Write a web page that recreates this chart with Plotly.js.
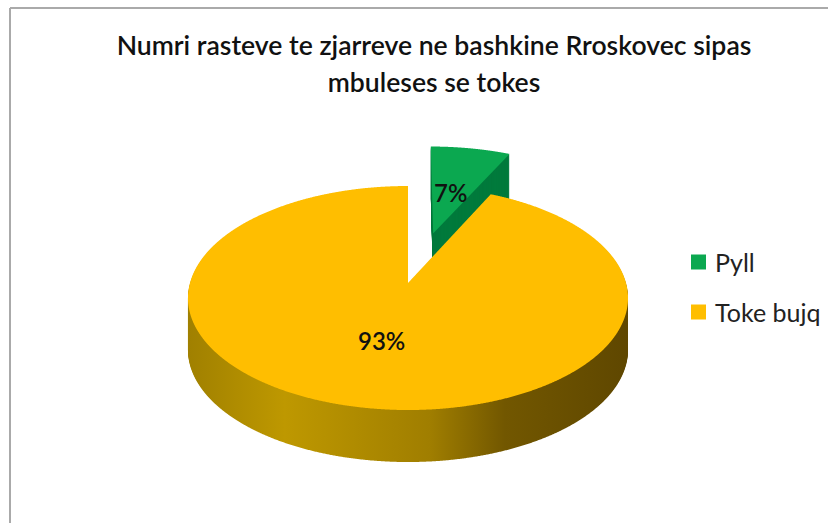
<!DOCTYPE html>
<html><head><meta charset="utf-8">
<script src="https://cdn.plot.ly/plotly-3.0.1.min.js"></script>
<style>html,body{margin:0;padding:0;background:#fff;overflow:hidden}#g{width:828px;height:523px}</style>
</head><body><div id="g"></div>
<script>
const categories = ['Pyll', 'Toke bujq'];
const shares = [7, 93];
const sliceColors = ['#0BA850', '#FFBE00'];
const wallColors = ['#007A3C', '#A88500'];
const titleLines = ['Numri rasteve te zjarreve ne bashkine Rroskovec sipas', 'mbuleses se tokes'];
const W = 828, H = 523;
const CX = 408, RX = 220, TOP = 186, MID = 283, BOT = 410, DEPTH = 52, STEP = 1;
const PULL = 0.46;

const base = {
  type: 'pie', labels: categories, values: shares, sort: false, direction: 'clockwise', rotation: 0,
  pull: [PULL, 0], textinfo: 'none', hoverinfo: 'skip', domain: {x: [0, 1], y: [0, 1]}
};
const traces = [];
for (let d = DEPTH; d > 0; d -= STEP) {
  traces.push(Object.assign({}, base, {showlegend: false, marker: {colors: wallColors, line: {width: 0}}}));
}
traces.push(Object.assign({}, base, {showlegend: true, marker: {colors: sliceColors, line: {width: 0}}}));

const sx = v => v / W, sy = v => 1 - v / H;
const layout = {
  width: W, height: H, margin: {l: 0, r: 0, t: 0, b: 0}, paper_bgcolor: '#fff',
  font: {family: 'Lato, sans-serif', color: '#1a1a1a'},
  title: {text: titleLines.join('<br>'), font: {family: 'Lato, sans-serif', size: 26.6, color: '#111', weight: 600},
          x: 434 / W, xanchor: 'center', y: 1 - 55 / H, yanchor: 'bottom'},
  legend: {x: sx(640), y: sy(240), xanchor: 'left', yanchor: 'top', font: {size: 25, color: '#222'}, bgcolor: 'rgba(0,0,0,0)'},
  shapes: [
    {type: 'line', xref: 'paper', yref: 'paper', x0: sx(10), x1: 1, y0: sy(8), y1: sy(8), line: {color: '#aaa', width: 2}},
    {type: 'line', xref: 'paper', yref: 'paper', x0: sx(10), x1: sx(10), y0: sy(8), y1: 0, line: {color: '#aaa', width: 2}}
  ],
  annotations: [
    {xref: 'paper', yref: 'paper', x: sx(450), y: sy(192), text: shares[0] + '%', showarrow: false, font: {size: 24, color: '#111', weight: 600}},
    {xref: 'paper', yref: 'paper', x: sx(381), y: sy(340), text: shares[1] + '%', showarrow: false, font: {size: 24, color: '#111', weight: 600}}
  ]
};

Plotly.newPlot('g', traces, layout, {displayModeBar: false, staticPlot: true}).then(gd => {
  const NS = 'http://www.w3.org/2000/svg';
  const svg = gd.querySelector('svg.main-svg');
  const defs = svg.querySelector('defs');
  const grad = document.createElementNS(NS, 'linearGradient');
  grad.setAttribute('id', 'wall');
  [[0, '#A08000'], [0.22, '#BE9800'], [0.55, '#A07E00'], [0.72, '#725700'], [1, '#5F4700']].forEach(s => {
    const st = document.createElementNS(NS, 'stop');
    st.setAttribute('offset', s[0]); st.setAttribute('stop-color', s[1]);
    grad.appendChild(st);
  });
  defs.appendChild(grad);

  // perspective: the flat pie from Plotly is projected onto the tilted plane
  const cd = gd.calcdata[0][0];
  const c = (2 * MID - TOP - BOT) / (BOT - TOP);
  const a = BOT * (1 + c) - MID;
  const A = RX * Math.sqrt(1 - c * c);
  const warp = (px, py) => {
    const u = (px - cd.cx) / cd.r, v = (py - cd.cy) / cd.r, q = 1 + c * v;
    return [CX + A * u / q, (a * v + MID) / q];
  };
  const warped = (path) => {
    const n = path.getTotalLength(), N = 2000, out = [];
    for (let i = 0; i < N; i++) {
      const p = path.getPointAtLength(n * i / N), w = warp(p.x, p.y);
      out.push(w[0].toFixed(2) + ',' + w[1].toFixed(2));
    }
    return 'M' + out.join('L') + 'Z';
  };

  const groups = Array.from(gd.querySelectorAll('.pielayer g.trace'));
  const shapesD = Array.from(groups[0].querySelectorAll('g.slice path')).map(warped);
  groups.forEach((g, i) => {
    const d = (groups.length - 1 - i) * STEP;
    g.setAttribute('transform', `translate(0,${d})`);
    const paths = g.querySelectorAll('g.slice path');
    paths.forEach((p, k) => p.setAttribute('d', shapesD[k]));
    paths[0].setAttribute('transform', 'translate(4.5,-3)');
    if (d > 0) paths[1].style.fill = 'url(#wall)';
  });

  // title line spacing
  const ts = gd.querySelectorAll('.gtitle tspan.line');
  if (ts.length > 1) ts[1].setAttribute('dy', '37');

  // legend placement and entries
  const leg = gd.querySelector('g.legend');
  leg.setAttribute('transform', 'translate(687,240)');
  const clip = gd.querySelector('.legend .scrollbox');
  if (clip) clip.removeAttribute('clip-path');
  const items = gd.querySelectorAll('.legend g.traces');
  items.forEach((it, i) => {
    it.setAttribute('transform', `translate(0,${22 + i * 50})`);
    const pts = it.querySelector('.legendpoints path');
    if (pts) pts.setAttribute('transform', 'translate(11.5,0) scale(1.25)');
    const t = it.querySelector('text');
    if (t) t.setAttribute('x', 28);
  });
});
</script></body></html>
